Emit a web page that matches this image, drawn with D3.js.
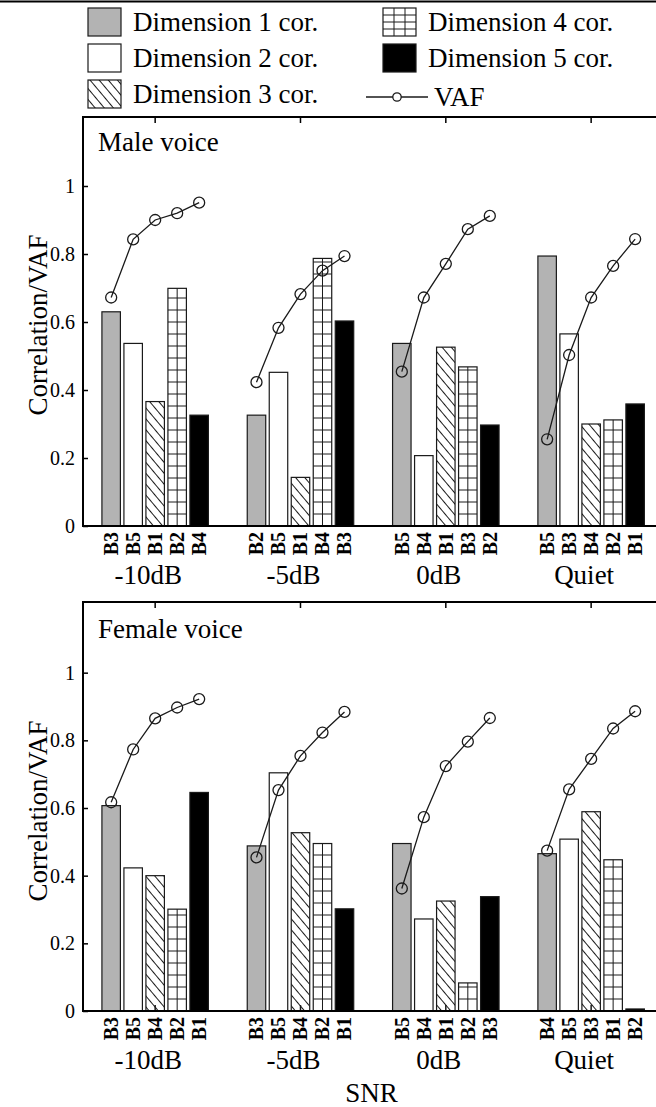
<!DOCTYPE html>
<html>
<head>
<meta charset="utf-8">
<script src="https://cdn.jsdelivr.net/npm/d3@7"></script>
<style>
  html, body { margin: 0; padding: 0; background: #fff; }
  svg { display: block; font-family: "Liberation Serif", "Times New Roman", serif; }
</style>
</head>
<body>
<svg id="chart" width="656" height="1107"></svg>
<script>
// ---- data ----
const groups = ["-10dB", "-5dB", "0dB", "Quiet"];
const dimensionNames = ["Dimension 1 cor.", "Dimension 2 cor.", "Dimension 3 cor.", "Dimension 4 cor.", "Dimension 5 cor."];
const yTicks = [0, 0.2, 0.4, 0.6, 0.8, 1];

const maleLabels = [
  ["B3", "B5", "B1", "B2", "B4"],
  ["B2", "B5", "B1", "B4", "B3"],
  ["B5", "B4", "B1", "B3", "B2"],
  ["B5", "B3", "B4", "B2", "B1"]
];
const maleCor = [
  [0.630, 0.537, 0.366, 0.699, 0.326],
  [0.326, 0.452, 0.143, 0.787, 0.603],
  [0.537, 0.207, 0.526, 0.468, 0.297],
  [0.794, 0.565, 0.300, 0.312, 0.359]
];
const maleVaf = [
  [0.672, 0.843, 0.900, 0.920, 0.951],
  [0.423, 0.583, 0.682, 0.751, 0.794],
  [0.454, 0.672, 0.771, 0.873, 0.912],
  [0.255, 0.503, 0.672, 0.765, 0.844]
];

const femaleLabels = [
  ["B3", "B5", "B4", "B2", "B1"],
  ["B3", "B5", "B4", "B2", "B1"],
  ["B5", "B4", "B1", "B2", "B3"],
  ["B4", "B5", "B3", "B1", "B2"]
];
const femaleCor = [
  [0.607, 0.423, 0.400, 0.301, 0.646],
  [0.488, 0.704, 0.527, 0.495, 0.302],
  [0.495, 0.272, 0.325, 0.083, 0.338],
  [0.465, 0.508, 0.589, 0.447, 0.006]
];
const femaleVaf = [
  [0.617, 0.773, 0.865, 0.897, 0.922],
  [0.454, 0.653, 0.754, 0.823, 0.884],
  [0.362, 0.573, 0.724, 0.796, 0.866],
  [0.474, 0.655, 0.745, 0.835, 0.886]
];

// ---- styles ----
const GRAY = "#b3b3b3";
const INK = "#1a1a1a";
const FILLS = [GRAY, "#fff", "url(#hatch)", "#fff", "#000"];

const svg = d3.select("#chart");
const W = 656;

const defs = svg.append("defs");
const hatch = defs.append("pattern")
  .attr("id", "hatch")
  .attr("patternUnits", "userSpaceOnUse")
  .attr("width", 7).attr("height", 7)
  .attr("patternTransform", "rotate(-40)");
hatch.append("rect").attr("width", 7).attr("height", 7).attr("fill", "#fff");
hatch.append("line").attr("x1", 3.5).attr("x2", 3.5).attr("y1", 0).attr("y2", 7)
  .attr("stroke", INK).attr("stroke-width", 1);

// ---- scales ----
const x0 = d3.scaleBand().domain(groups).range([82.5, 663.8]);
const x1 = d3.scaleBand().domain(d3.range(5)).range([-55, 55]).paddingInner(0.16).paddingOuter(0.08);
const gx = g => x0(g) + x0.bandwidth() / 2;

// grid fill drawn per bar: centre line plus horizontal rules
function drawGrid(sel, bx, by, bw, bh, base) {
  const g = sel.append("g");
  g.append("rect").attr("x", bx).attr("y", by).attr("width", bw).attr("height", bh).attr("fill", "#fff");
  g.append("line").attr("x1", bx + bw / 2).attr("x2", bx + bw / 2).attr("y1", by).attr("y2", by + bh)
    .attr("stroke", INK).attr("stroke-width", 1);
  const rules = d3.range(base - 12, by, -12);
  g.selectAll("line.rule").data(rules).join("line").attr("class", "rule")
    .attr("x1", bx).attr("x2", bx + bw).attr("y1", d => d).attr("y2", d => d)
    .attr("stroke", INK).attr("stroke-width", 1);
}

function panel(opts) {
  const { labels, cor, vaf, yRange, topY, title, ticksOnTop, xTitle } = opts;
  const y = d3.scaleLinear().domain([0, 1.2]).range(yRange);
  const g = svg.append("g");
  const y0 = y(0);

  const bottomTicks = gg => gg.selectAll("line.btick").data(groups).join("line").attr("class", "btick")
    .attr("x1", d => gx(d)).attr("x2", d => gx(d)).attr("y1", y0).attr("y2", y0 - 6)
    .attr("stroke", INK).attr("stroke-width", 1.5);

  if (!ticksOnTop) bottomTicks(g.append("g"));

  // bars
  groups.forEach((grp, gi) => {
    cor[gi].forEach((v, i) => {
      const bx = gx(grp) + x1(i) - 55 + 55;
      const bw = x1.bandwidth();
      const by = y(v), bh = y0 - y(v);
      if (i === 3) {
        drawGrid(g, bx, by, bw, bh, y0);
      }
      g.append("rect")
        .attr("x", bx).attr("y", by).attr("width", bw).attr("height", bh)
        .attr("fill", i === 3 ? "none" : FILLS[i])
        .attr("stroke", INK).attr("stroke-width", 1.2);
    });
  });

  if (ticksOnTop) bottomTicks(g.append("g"));

  // VAF curves
  const line = d3.line().x(d => d[0]).y(d => y(d[1]));
  groups.forEach((grp, gi) => {
    const pts = vaf[gi].map((v, i) => [gx(grp) + x1(i) + x1.bandwidth() / 2, v]);
    g.append("path").attr("d", line(pts)).attr("fill", "none").attr("stroke", INK).attr("stroke-width", 1.3);
    g.selectAll(null).data(pts).join("circle")
      .attr("cx", d => d[0]).attr("cy", d => y(d[1])).attr("r", 5.5)
      .attr("fill", "none").attr("stroke", INK).attr("stroke-width", 1.3);
  });

  // frame: left axis, top border, baseline
  g.append("line").attr("x1", 83).attr("x2", 83).attr("y1", topY).attr("y2", y0 + 1)
    .attr("stroke", "#000").attr("stroke-width", 2);
  g.append("line").attr("x1", 82).attr("x2", W).attr("y1", topY).attr("y2", topY)
    .attr("stroke", "#000").attr("stroke-width", 2);
  g.append("line").attr("x1", 82).attr("x2", W).attr("y1", y0).attr("y2", y0)
    .attr("stroke", "#000").attr("stroke-width", 2);
  // ticks along the top border
  g.selectAll("line.ttick").data(groups).join("line").attr("class", "ttick")
    .attr("x1", d => gx(d)).attr("x2", d => gx(d)).attr("y1", topY).attr("y2", topY + 6)
    .attr("stroke", "#000").attr("stroke-width", 1.5);

  // y axis
  const yAxis = d3.axisLeft(y).tickValues(yTicks).tickSizeInner(-5).tickSizeOuter(0).tickPadding(8)
    .tickFormat(d3.format("~g"));
  const ya = g.append("g").attr("transform", "translate(83,0)").call(yAxis);
  ya.select(".domain").remove();
  ya.selectAll(".tick line").attr("stroke", "#000").attr("stroke-width", 1.5);
  ya.selectAll(".tick text").attr("font-size", 20).attr("font-family", "Liberation Serif").attr("fill", "#000");

  // x tick labels (rotated, bold)
  groups.forEach((grp, gi) => {
    labels[gi].forEach((lab, i) => {
      const cx = gx(grp) + x1(i) + x1.bandwidth() / 2;
      g.append("text")
        .attr("transform", `translate(${cx},${y0 + 6}) rotate(-90)`)
        .attr("text-anchor", "end").attr("dy", "0.34em")
        .attr("font-size", 20).attr("font-weight", "bold").attr("fill", "#000")
        .text(lab);
    });
  });
  // group labels
  g.selectAll("text.grp").data(groups).join("text").attr("class", "grp")
    .attr("x", d => gx(d) - 7).attr("y", y0 + 58)
    .attr("text-anchor", "middle").attr("font-size", 27).attr("fill", "#000")
    .text(d => d);

  // panel title
  g.append("text").attr("x", 98).attr("y", y(1.1) - 1)
    .attr("font-size", 27).attr("fill", "#000").text(title);

  // y axis title
  g.append("text")
    .attr("transform", `translate(47,${y(0.6) + 3}) rotate(-90)`)
    .attr("text-anchor", "middle").attr("font-size", 27).attr("fill", "#000")
    .text("Correlation/VAF");

  if (xTitle) {
    g.append("text").attr("x", (83 + 663.8) / 2 - 2).attr("y", y0 + 91)
      .attr("text-anchor", "middle").attr("font-size", 27).attr("fill", "#000")
      .text(xTitle);
  }
}

// ---- legend ----
const legend = svg.append("g");
legend.append("line").attr("x1", 0).attr("x2", W).attr("y1", 1.5).attr("y2", 1.5)
  .attr("stroke", "#000").attr("stroke-width", 2);
const sw = 33, sh = 28;
const rowsY = [22, 58, 94];
const legendItems = [
  { col: 88, row: 0, dim: 0 },
  { col: 88, row: 1, dim: 1 },
  { col: 88, row: 2, dim: 2 },
  { col: 383, row: 0, dim: 3 },
  { col: 383, row: 1, dim: 4 }
];
legendItems.forEach(it => {
  const sx = it.col, sy = rowsY[it.row] - sh / 2;
  if (it.dim === 3) {
    legend.append("rect").attr("x", sx).attr("y", sy).attr("width", sw).attr("height", sh).attr("fill", "#fff");
    [1, 2].forEach(k => legend.append("line")
      .attr("x1", sx + sw * k / 3).attr("x2", sx + sw * k / 3).attr("y1", sy).attr("y2", sy + sh)
      .attr("stroke", INK).attr("stroke-width", 1));
    [1, 2, 3].forEach(k => legend.append("line")
      .attr("x1", sx).attr("x2", sx + sw).attr("y1", sy + sh * k / 4).attr("y2", sy + sh * k / 4)
      .attr("stroke", INK).attr("stroke-width", 1));
  }
  legend.append("rect").attr("x", sx).attr("y", sy).attr("width", sw).attr("height", sh)
    .attr("fill", it.dim === 3 ? "none" : FILLS[it.dim])
    .attr("stroke", INK).attr("stroke-width", 1.2);
  legend.append("text").attr("x", sx + sw + 12).attr("y", rowsY[it.row] + 9)
    .attr("font-size", 27).attr("fill", "#000").text(dimensionNames[it.dim]);
});
// VAF entry
legend.append("line").attr("x1", 366).attr("x2", 428).attr("y1", rowsY[2] + 3).attr("y2", rowsY[2] + 3)
  .attr("stroke", INK).attr("stroke-width", 1.5);
legend.append("circle").attr("cx", 397).attr("cy", rowsY[2] + 3).attr("r", 4.2)
  .attr("fill", "#fff").attr("stroke", INK).attr("stroke-width", 1.3);
legend.append("text").attr("x", 434).attr("y", rowsY[2] + 12)
  .attr("font-size", 27).attr("fill", "#000").text("VAF");

// ---- panels ----
panel({ labels: maleLabels, cor: maleCor, vaf: maleVaf, yRange: [526, 118], topY: 117,
        title: "Male voice", ticksOnTop: false, xTitle: null });
panel({ labels: femaleLabels, cor: femaleCor, vaf: femaleVaf, yRange: [1011, 605], topY: 602,
        title: "Female voice", ticksOnTop: true, xTitle: "SNR" });
</script>
</body>
</html>
